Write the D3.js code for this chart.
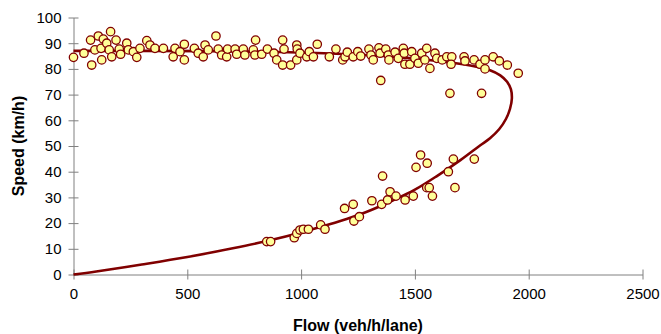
<!DOCTYPE html>
<html>
<head>
<meta charset="utf-8">
<script src="https://cdn.jsdelivr.net/npm/d3@7"></script>
<style>
html,body{margin:0;padding:0;background:#fff;}
svg{display:block;font-family:"Liberation Sans",Arial,sans-serif;}
</style>
</head>
<body>
<svg id="chart" width="661" height="334"></svg>
<script>
// Observed data points (flow veh/h/lane, speed km/h)
const obsFlow = [
  0,46,80,75,109,163,131,94,121,124,146,157,168,187,201,207,234,241,263,278,292,322,336,358,395,
  438,446,468,487,487,531,548,570,578,592,626,636,651,673,677,710,717,746,753,790,800,797,827,
  852,881,893,919,925,919,954,981,983,981,995,1025,1036,1054,1071,1124,1153,1183,1193,1203,1229,1249,
  1262,1298,1307,1317,1342,1347,1372,1383,1386,1413,1427,1449,1453,1456,1478,1486,1500,1515,1530,1552,
  1544,1566,1588,1596,1620,1640,1662,1659,1716,1720,1760,1786,1808,1808,1844,1871,1906,1954,
  1350,1654,1793,
  849,866,970,981,995,1010,1032,1086,1105,1191,1229,1232,1256,1311,1354,1358,1380,1391,1417,1457,
  1493,1505,1525,1552,1563,1554,1577,1647,1669,1676,1761
];
const obsSpeed = [
  84.5,86.1,81.5,91.2,92.8,94.5,91.6,87.4,88,83.5,90,87.4,84.7,91.2,87.7,85.7,90,87.4,86.7,84.5,88,91,89.3,88,88,
  84.7,88,86.7,89.6,83.5,88,86.1,84.7,89.3,87.4,92.8,87.7,85.4,84.7,87.7,87.7,85.7,87.7,85.4,87.4,91.2,85.4,85.7,
  87.7,86.1,83.5,91.2,87.7,81.5,81.5,89.3,87.7,83.5,86.1,84.7,86.7,84.7,89.6,84.7,87.7,83.5,84.7,86.5,84.7,86.7,
  85,87.7,85.4,83.5,88.2,86.1,87.7,85.4,83.5,86.5,84.1,88,86.1,81.8,81.8,86.7,84.1,82.2,86.1,88,
  83.5,80.2,86.1,84.1,83.5,84.7,84.7,81.8,84.7,83.1,83.5,81.8,83.5,80,84.7,83.1,81.5,78.3,
  75.5,70.5,70.5,
  12.8,12.8,14.3,16,17.3,17.6,17.6,19.3,17.6,25.7,27.3,20.8,22.5,28.7,27.3,38.3,29,32.2,30.5,29,
  30.5,41.7,46.5,33.8,33.8,43.3,30.5,40,44.9,33.8,44.9
];
// Fitted speed-flow curve (upper branch -> nose -> lower branch)
const curveFlow  = [0,300,600,900,1100,1300,1450,1580,1680,1760,1830,1875,1905,1922,1926,1918,1900,1870,1830,1786,1700,1600,1500,1400,1300,1200,1100,1000,850,700,500,300,100,0];
const curveSpeed = [87,87,86.9,86.6,86.1,85.3,84.4,83.3,82.2,81,79.5,77.5,75,72,68.5,64.5,60.5,56.5,53,50.2,44.5,38.5,33,28.7,24.8,21.6,18.9,16.3,13,10.2,6.8,3.9,1.2,0];

const xTicks = [0,500,1000,1500,2000,2500];
const yTicks = [0,10,20,30,40,50,60,70,80,90,100];
const xTitle = "Flow (veh/h/lane)";
const yTitle = "Speed (km/h)";

const svg = d3.select("#chart");
const L = 73.5, R = 642.5, T = 17.5, B = 274.5;
const x = d3.scaleLinear().domain([0,2500]).range([L,R]);
const y = d3.scaleLinear().domain([0,100]).range([B,T]);
const axisColor = "#808080";

// Y axis
const gy = svg.append("g").attr("transform",`translate(${L},0)`)
  .call(d3.axisLeft(y).tickValues(yTicks).tickFormat(d3.format("d")).tickSize(0).tickPadding(12));
gy.select(".domain").attr("stroke",axisColor);
gy.selectAll(".tick text").attr("font-size",15).attr("fill","#000").attr("font-family","Liberation Sans, Arial, sans-serif");
gy.selectAll(".tick").append("line").attr("x1",-5).attr("x2",5).attr("stroke",axisColor);

// X axis
const gx = svg.append("g").attr("transform",`translate(0,${B})`)
  .call(d3.axisBottom(x).tickValues(xTicks).tickFormat(d3.format("d")).tickSize(0).tickPadding(14));
gx.select(".domain").attr("stroke",axisColor);
gx.selectAll(".tick text").attr("font-size",15).attr("fill","#000").attr("font-family","Liberation Sans, Arial, sans-serif");
gx.selectAll(".tick").append("line").attr("y1",-5).attr("y2",5).attr("stroke",axisColor);

// Titles
svg.append("text").attr("x",(L+R)/2).attr("y",331).attr("text-anchor","middle")
  .attr("font-size",16).attr("font-weight","bold").text(xTitle);
svg.append("text").attr("transform",`translate(24,${(T+B)/2}) rotate(-90)`).attr("text-anchor","middle")
  .attr("font-size",16).attr("font-weight","bold").text(yTitle);

// Curve
const cpts = curveFlow.map((f,i)=>({f, s: curveSpeed[i]}));
svg.append("path").datum(cpts)
  .attr("d", d3.line().x(d=>x(d.f)).y(d=>y(d.s)).curve(d3.curveCatmullRom.alpha(0.5)))
  .attr("fill","none").attr("stroke","#800000").attr("stroke-width",2.6);

// Points (on top of curve)
const pts = obsFlow.map((f,i)=>({f, s: obsSpeed[i]}));
svg.append("g").selectAll("circle").data(pts).join("circle")
  .attr("cx",d=>x(d.f)).attr("cy",d=>y(d.s)).attr("r",4.2)
  .attr("fill","#FFFF99").attr("stroke","#800000").attr("stroke-width",1.3);
</script>
</body>
</html>
